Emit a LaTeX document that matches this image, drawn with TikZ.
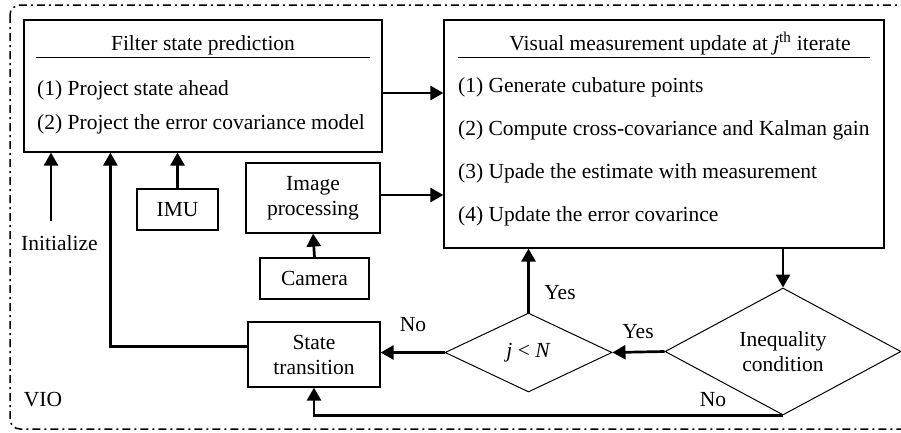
\documentclass[tikz,border=0pt]{standalone}
\usepackage{fontspec}
\setmainfont{Liberation Serif}
\usetikzlibrary{arrows.meta,shapes.geometric,calc}
\begin{document}
\begin{tikzpicture}[x=1pt,y=-1pt,
  font=\fontsize{21.5}{25}\selectfont,
  box/.style={draw,line width=1.2pt,inner sep=0pt,align=center},
  dia/.style={draw,diamond,line width=1pt,inner sep=0pt,aspect=1.86,align=center},
  arr/.style={line width=2.7pt,-{Triangle[length=13pt,width=14pt]}},
  lbl/.style={inner sep=0pt},
  frame/.style={line width=1.5pt,dash pattern=on 8pt off 4pt on 2pt off 4pt,rounded corners=10pt}]
\useasboundingbox (0,0) rectangle (901,432);
\clip (0,0) rectangle (901,432);
\draw[frame] (10,5) rectangle (920,429);
% boxes
\node[box,minimum width=358pt,minimum height=132pt] (filter) at (203,86) {};
\node[box,minimum width=440pt,minimum height=228pt] (visual) at (664,134) {};
\node[box,minimum width=81pt,minimum height=41pt] (imu) at (177.5,209.5) {IMU};
\node[box,minimum width=134pt,minimum height=70pt] (improc) at (313,198) {Image\\processing};
\node[box,minimum width=109pt,minimum height=41pt] (camera) at (314.5,278.5) {Camera};
\node[box,minimum width=132pt,minimum height=65pt] (state) at (314,354.5) {State\\transition};
\node[dia,minimum width=167pt,minimum height=79pt] (jn) at (528.5,352.5) {\textit{j} < \textit{N}};
\node[dia,minimum width=236pt,minimum height=127pt] (ineq) at (783,351.5) {Inequality\\condition};
% box contents
\node[lbl,anchor=base] (ftitle) at (203,50) {Filter state prediction};
\draw[line width=1pt] (36,57) -- (370,57);
\node[lbl,anchor=base west] (f1) at (37,95) {(1) Project state ahead};
\node[lbl,anchor=base west] (f2) at (37,129) {(2) Project the error covariance model};
\node[lbl,anchor=base] (vtitle) at (680,50) {Visual measurement update at \textit{j}\textsuperscript{th} iterate};
\draw[line width=1pt] (458,57) -- (870,57);
\node[lbl,anchor=base west] (v1) at (458,92) {(1) Generate cubature points};
\node[lbl,anchor=base west] (v2) at (458,135) {(2) Compute cross-covariance and Kalman gain};
\node[lbl,anchor=base west] (v3) at (458,178) {(3) Upade the estimate with measurement};
\node[lbl,anchor=base west] (v4) at (458,221) {(4) Update the error covarince};
% labels
\node[lbl] (yes1) at (560,293) {Yes};
\node[lbl] (yes2) at (638,332) {Yes};
\node[lbl] (no1) at (713,400) {No};
\node[lbl] (no2) at (413,325) {No};
\node[lbl] (vio) at (43,400) {VIO};
\node[lbl,anchor=west] (initlbl) at (21,243) {Initialize};
\coordinate (init) at (51,221);
% connectors
\draw[arr] ([yshift=-7pt]filter.east) -- ([yshift=-7pt]filter.east -| visual.west);
\draw[arr] ([yshift=3pt]improc.east) -- ([yshift=3pt]improc.east -| visual.west);
\draw[arr] (imu.north) -- (imu.north |- filter.south);
\draw[arr] (camera.north) -- (improc.south);
\draw[arr] (init) -- (init |- filter.south);
\draw[arr] ([yshift=8pt]state.west) -| ([xshift=87pt]filter.south west);
\draw[arr] (jn.west) -- (jn.west -| state.east);
\draw[arr] (jn.north) -- (jn.north |- visual.south);
\draw[arr] (ineq.north |- visual.south) -- (ineq.north);
\draw[arr] (ineq.west) -- (jn.east);
\draw[arr] (ineq.south) -| (state.south);
\end{tikzpicture}
\end{document}
